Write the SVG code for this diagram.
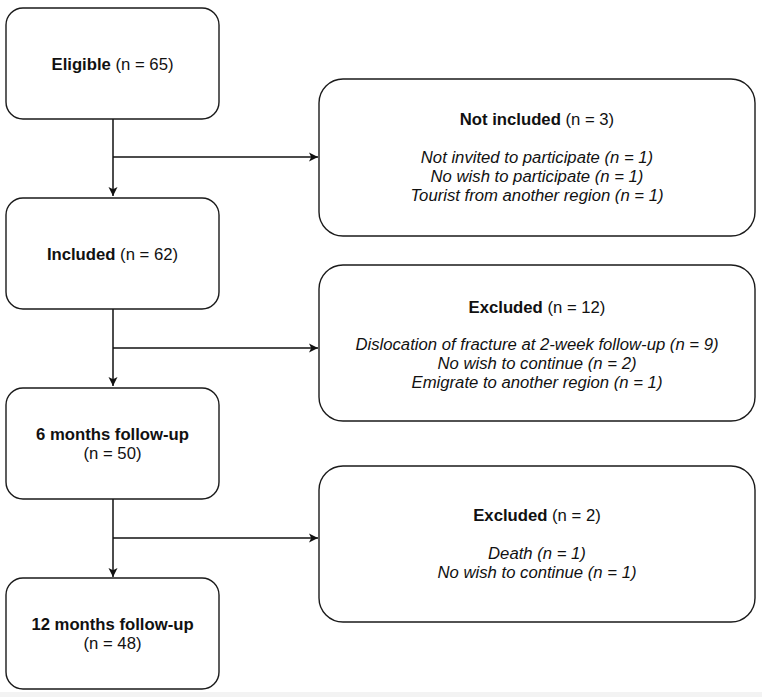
<svg xmlns="http://www.w3.org/2000/svg" width="762" height="697" viewBox="0 0 762 697">
<style>
.box{fill:#fff;stroke:#1a1a1a;stroke-width:1.4}
.t{font-family:"Liberation Sans",Arial,sans-serif;font-size:16.7px;fill:#111;text-anchor:middle}
.b{font-weight:bold}
.i{font-style:italic}
.c{fill:none;stroke:#111;stroke-width:1.5}
</style>
<defs>
<marker id="ah" markerWidth="10" markerHeight="10" viewBox="0 0 10 10" refX="9" refY="5" orient="auto" markerUnits="userSpaceOnUse">
<path d="M0,0.5 L9,5 L0,9.5 L2.2,5 Z" fill="#111"/>
</marker>
</defs>
<rect x="0" y="692" width="762" height="5" fill="#f3f3f3"/>
<g id="connectors">
<path class="c" d="M113,119 V196" marker-end="url(#ah)"/>
<path class="c" d="M113,157 H318" marker-end="url(#ah)"/>
<path class="c" d="M113,309 V386" marker-end="url(#ah)"/>
<path class="c" d="M113,348 H318" marker-end="url(#ah)"/>
<path class="c" d="M113,499 V577" marker-end="url(#ah)"/>
<path class="c" d="M113,538 H318" marker-end="url(#ah)"/>
</g>
<g id="eligible">
<rect class="box" x="6" y="8" width="213" height="111" rx="17"/>
<text class="t" x="112.5" y="70"><tspan class="b">Eligible</tspan> (n = 65)</text>
</g>
<g id="included">
<rect class="box" x="6" y="198" width="213" height="111" rx="17"/>
<text class="t" x="112.5" y="260"><tspan class="b">Included</tspan> (n = 62)</text>
</g>
<g id="six-months">
<rect class="box" x="6" y="388" width="213" height="111" rx="17"/>
<text class="t b" x="112.5" y="440">6 months follow-up</text>
<text class="t" x="112.5" y="459">(n = 50)</text>
</g>
<g id="twelve-months">
<rect class="box" x="6" y="578" width="213" height="111" rx="17"/>
<text class="t b" x="112.5" y="630">12 months follow-up</text>
<text class="t" x="112.5" y="649">(n = 48)</text>
</g>
<g id="not-included">
<rect class="box" x="319" y="79" width="436" height="157" rx="24"/>
<text class="t" x="537" y="125"><tspan class="b">Not included</tspan> (n = 3)</text>
<text class="t i" x="537" y="163">Not invited to participate (n = 1)</text>
<text class="t i" x="537" y="182">No wish to participate (n = 1)</text>
<text class="t i" x="537" y="201">Tourist from another region (n = 1)</text>
</g>
<g id="excluded-12">
<rect class="box" x="319" y="265" width="436" height="156" rx="24"/>
<text class="t" x="537" y="313"><tspan class="b">Excluded</tspan> (n = 12)</text>
<text class="t i" x="537" y="350">Dislocation of fracture at 2-week follow-up (n = 9)</text>
<text class="t i" x="537" y="369">No wish to continue (n = 2)</text>
<text class="t i" x="537" y="388">Emigrate to another region (n = 1)</text>
</g>
<g id="excluded-2">
<rect class="box" x="319" y="466" width="436" height="156" rx="24"/>
<text class="t" x="537" y="521"><tspan class="b">Excluded</tspan> (n = 2)</text>
<text class="t i" x="537" y="559">Death (n = 1)</text>
<text class="t i" x="537" y="578">No wish to continue (n = 1)</text>
</g>
</svg>
